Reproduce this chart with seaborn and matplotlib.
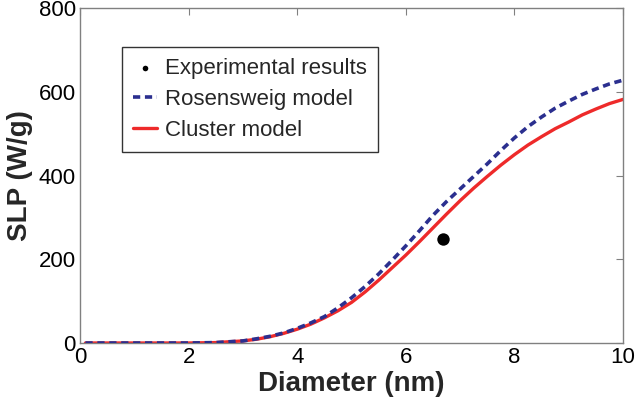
import matplotlib
matplotlib.use("Agg")
import matplotlib.pyplot as plt
import seaborn as sns
import pandas as pd

diameter = [0.1, 0.5, 1, 1.5, 2, 2.5, 3, 3.25, 3.5, 3.75, 4, 4.25, 4.5, 4.75, 5, 5.25, 5.5, 5.75,
            6, 6.25, 6.5, 6.75, 7, 7.25, 7.5, 7.75, 8, 8.25, 8.5, 8.75, 9, 9.25, 9.5, 9.75, 10]
rosensweig = [0, 0, 0, 0, 0, 1, 5, 10, 16, 24, 35, 48, 63, 84, 108, 135, 165, 198,
              232, 268, 305, 338, 368, 398, 428, 460, 490, 517, 540, 561, 578, 594, 607, 619, 628]
cluster = [0, 0, 0, 0, 0, 1, 5, 9, 15, 23, 33, 45, 60, 77, 97, 122, 150, 180,
           210, 242, 275, 308, 340, 370, 398, 425, 450, 473, 493, 512, 528, 545, 559, 572, 582]
exp_d = [6.68]
exp_slp = [249]

sns.set_theme(style="white")
plt.rcParams['font.family'] = ['Liberation Sans', 'DejaVu Sans']

fig = plt.figure(figsize=(6.36, 4.08), dpi=100)
ax = fig.add_axes([0.1258, 0.1593, 0.8538, 0.8207])

df_r = pd.DataFrame({"d": diameter, "v": rosensweig})
df_c = pd.DataFrame({"d": diameter, "v": cluster})
df_e = pd.DataFrame({"d": exp_d, "v": exp_slp})

sns.scatterplot(data=df_e, x="d", y="v", ax=ax, color="black", s=80, marker="o",
                edgecolor="black", linewidth=0, label="Experimental results", zorder=4)
sns.lineplot(data=df_r, x="d", y="v", ax=ax, color="#2b2f8f", linewidth=2.6,
             linestyle=(0, (2.0, 1.3)), label="Rosensweig model", zorder=3)
sns.lineplot(data=df_c, x="d", y="v", ax=ax, color="#ee2a2a", linewidth=2.4,
             label="Cluster model", zorder=2)

ax.set_xlim(0, 10)
ax.set_ylim(0, 800)
ax.set_xticks([0, 2, 4, 6, 8, 10])
ax.set_yticks([0, 200, 400, 600, 800])
ax.tick_params(direction="in", length=5, width=0.8, color="#808080",
               top=True, right=True, labelsize=16, labelcolor="black", pad=3)
for s in ax.spines.values():
    s.set_color("#808080")
    s.set_linewidth(1.0)
ax.set_xlabel("Diameter (nm)", fontsize=20, fontweight="bold", labelpad=2)
ax.set_ylabel("SLP (W/g)", fontsize=20, fontweight="bold", labelpad=4)

handles, labels = ax.get_legend_handles_labels()
leg = ax.legend(handles, labels, loc="upper left", bbox_to_anchor=(0.077, 0.884),
                fontsize=16, frameon=True, fancybox=False, edgecolor="black",
                handlelength=1.08, handletextpad=0.36, borderpad=0.5, labelspacing=0.45,
                markerscale=0.45, borderaxespad=0)
leg.get_frame().set_linewidth(1.0)

fig.savefig("out.png", dpi=100)
